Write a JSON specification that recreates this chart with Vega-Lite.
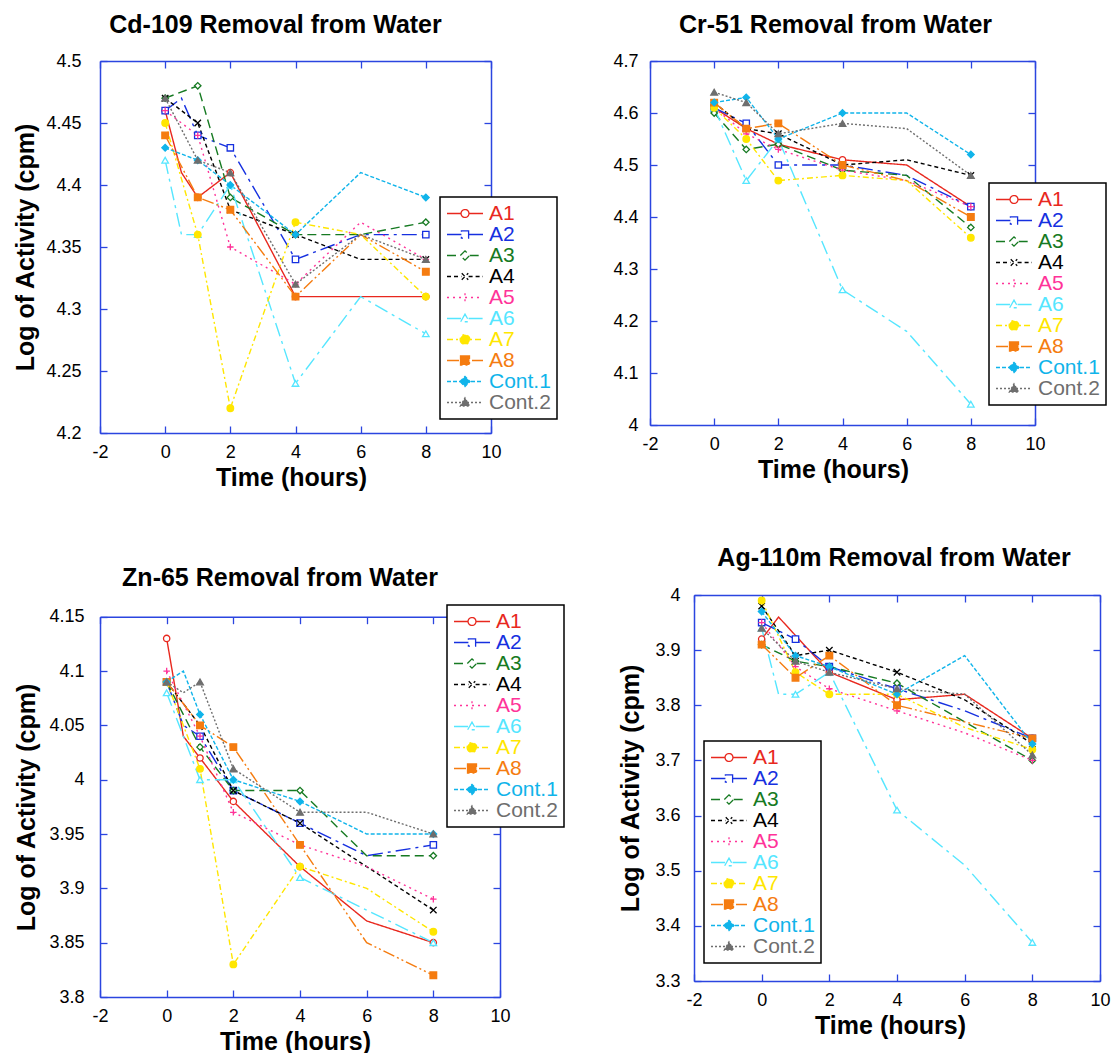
{
  "$schema": "https://vega.github.io/schema/vega-lite/v6.json",
  "background": "white",
  "padding": {"left": 13, "top": 13, "right": 0, "bottom": 0},
  "config": {
    "font": "Liberation Sans",
    "view": {"stroke": null},
    "axis": {"grid": false, "domain": true, "domainColor": "#2b45e0", "domainWidth": 1.5, "tickColor": "#2b45e0", "tickWidth": 1.3, "tickSize": -7, "labelFont": "Liberation Sans", "labelFontSize": 18, "labelColor": "#000000", "titleFont": "Liberation Sans", "titleFontSize": 25, "titleFontWeight": "bold", "titleColor": "#000000", "labelFlush": false, "labelOverlap": false},
    "title": {"font": "Liberation Sans", "fontSize": 25, "fontWeight": "bold", "color": "#000000"},
    "legend": {"labelFont": "Liberation Sans"}
  },
  "datasets": {
    "cd": [
      {"s":"A1","t":0,"v":4.46},{"s":"A1","t":0.5,"v":4.41},{"s":"A1","t":1,"v":4.39},{"s":"A1","t":2,"v":4.41},{"s":"A1","t":4,"v":4.31},{"s":"A1","t":6,"v":4.31},{"s":"A1","t":8,"v":4.31},
      {"s":"A2","t":0,"v":4.46},{"s":"A2","t":0.5,"v":4.47},{"s":"A2","t":1,"v":4.44},{"s":"A2","t":2,"v":4.43},{"s":"A2","t":4,"v":4.34},{"s":"A2","t":6,"v":4.36},{"s":"A2","t":8,"v":4.36},
      {"s":"A3","t":0,"v":4.47},{"s":"A3","t":1,"v":4.48},{"s":"A3","t":2,"v":4.39},{"s":"A3","t":4,"v":4.36},{"s":"A3","t":6,"v":4.36},{"s":"A3","t":8,"v":4.37},
      {"s":"A4","t":0,"v":4.47},{"s":"A4","t":1,"v":4.45},{"s":"A4","t":2,"v":4.38},{"s":"A4","t":4,"v":4.36},{"s":"A4","t":6,"v":4.34},{"s":"A4","t":8,"v":4.34},
      {"s":"A5","t":0,"v":4.46},{"s":"A5","t":1,"v":4.44},{"s":"A5","t":2,"v":4.35},{"s":"A5","t":4,"v":4.32},{"s":"A5","t":6,"v":4.37},{"s":"A5","t":8,"v":4.34},
      {"s":"A6","t":0,"v":4.42},{"s":"A6","t":0.5,"v":4.36},{"s":"A6","t":1,"v":4.36},{"s":"A6","t":2,"v":4.40},{"s":"A6","t":4,"v":4.24},{"s":"A6","t":6,"v":4.31},{"s":"A6","t":8,"v":4.28},
      {"s":"A7","t":0,"v":4.45},{"s":"A7","t":1,"v":4.36},{"s":"A7","t":2,"v":4.22},{"s":"A7","t":4,"v":4.37},{"s":"A7","t":6,"v":4.36},{"s":"A7","t":8,"v":4.31},
      {"s":"A8","t":0,"v":4.44},{"s":"A8","t":1,"v":4.39},{"s":"A8","t":2,"v":4.38},{"s":"A8","t":4,"v":4.31},{"s":"A8","t":6,"v":4.36},{"s":"A8","t":8,"v":4.33},
      {"s":"Cont.1","t":0,"v":4.43},{"s":"Cont.1","t":1,"v":4.42},{"s":"Cont.1","t":2,"v":4.40},{"s":"Cont.1","t":4,"v":4.36},{"s":"Cont.1","t":6,"v":4.41},{"s":"Cont.1","t":8,"v":4.39},
      {"s":"Cont.2","t":0,"v":4.47},{"s":"Cont.2","t":1,"v":4.42},{"s":"Cont.2","t":2,"v":4.41},{"s":"Cont.2","t":4,"v":4.32},{"s":"Cont.2","t":6,"v":4.36},{"s":"Cont.2","t":8,"v":4.34}
    ],
    "cr": [
      {"s":"A1","t":0,"v":4.61},{"s":"A1","t":1,"v":4.57},{"s":"A1","t":2,"v":4.54},{"s":"A1","t":4,"v":4.51},{"s":"A1","t":6,"v":4.50},{"s":"A1","t":8,"v":4.42},
      {"s":"A2","t":0,"v":4.61},{"s":"A2","t":1,"v":4.58},{"s":"A2","t":2,"v":4.50},{"s":"A2","t":4,"v":4.50},{"s":"A2","t":6,"v":4.48},{"s":"A2","t":8,"v":4.42},
      {"s":"A3","t":0,"v":4.60},{"s":"A3","t":1,"v":4.53},{"s":"A3","t":2,"v":4.54},{"s":"A3","t":4,"v":4.49},{"s":"A3","t":6,"v":4.48},{"s":"A3","t":8,"v":4.38},
      {"s":"A4","t":0,"v":4.62},{"s":"A4","t":1,"v":4.57},{"s":"A4","t":2,"v":4.56},{"s":"A4","t":4,"v":4.50},{"s":"A4","t":6,"v":4.51},{"s":"A4","t":8,"v":4.48},
      {"s":"A5","t":0,"v":4.61},{"s":"A5","t":1,"v":4.56},{"s":"A5","t":2,"v":4.53},{"s":"A5","t":4,"v":4.49},{"s":"A5","t":6,"v":4.47},{"s":"A5","t":8,"v":4.42},
      {"s":"A6","t":0,"v":4.61},{"s":"A6","t":1,"v":4.47},{"s":"A6","t":2,"v":4.55},{"s":"A6","t":4,"v":4.26},{"s":"A6","t":6,"v":4.18},{"s":"A6","t":8,"v":4.04},
      {"s":"A7","t":0,"v":4.61},{"s":"A7","t":1,"v":4.55},{"s":"A7","t":2,"v":4.47},{"s":"A7","t":4,"v":4.48},{"s":"A7","t":6,"v":4.47},{"s":"A7","t":8,"v":4.36},
      {"s":"A8","t":0,"v":4.62},{"s":"A8","t":1,"v":4.57},{"s":"A8","t":2,"v":4.58},{"s":"A8","t":4,"v":4.50},{"s":"A8","t":6,"v":4.47},{"s":"A8","t":8,"v":4.40},
      {"s":"Cont.1","t":0,"v":4.62},{"s":"Cont.1","t":1,"v":4.63},{"s":"Cont.1","t":2,"v":4.55},{"s":"Cont.1","t":4,"v":4.60},{"s":"Cont.1","t":6,"v":4.60},{"s":"Cont.1","t":8,"v":4.52},
      {"s":"Cont.2","t":0,"v":4.64},{"s":"Cont.2","t":1,"v":4.62},{"s":"Cont.2","t":2,"v":4.56},{"s":"Cont.2","t":4,"v":4.58},{"s":"Cont.2","t":6,"v":4.57},{"s":"Cont.2","t":8,"v":4.48}
    ],
    "zn": [
      {"s":"A1","t":0,"v":4.13},{"s":"A1","t":0.5,"v":4.04},{"s":"A1","t":1,"v":4.02},{"s":"A1","t":2,"v":3.98},{"s":"A1","t":4,"v":3.92},{"s":"A1","t":6,"v":3.87},{"s":"A1","t":8,"v":3.85},
      {"s":"A2","t":0,"v":4.09},{"s":"A2","t":0.5,"v":4.05},{"s":"A2","t":1,"v":4.04},{"s":"A2","t":2,"v":3.99},{"s":"A2","t":4,"v":3.96},{"s":"A2","t":6,"v":3.93},{"s":"A2","t":8,"v":3.94},
      {"s":"A3","t":0,"v":4.09},{"s":"A3","t":1,"v":4.03},{"s":"A3","t":2,"v":3.99},{"s":"A3","t":4,"v":3.99},{"s":"A3","t":6,"v":3.93},{"s":"A3","t":8,"v":3.93},
      {"s":"A4","t":0,"v":4.09},{"s":"A4","t":1,"v":4.05},{"s":"A4","t":2,"v":3.99},{"s":"A4","t":4,"v":3.96},{"s":"A4","t":6,"v":3.92},{"s":"A4","t":8,"v":3.88},
      {"s":"A5","t":0,"v":4.10},{"s":"A5","t":1,"v":4.04},{"s":"A5","t":2,"v":3.97},{"s":"A5","t":4,"v":3.94},{"s":"A5","t":6,"v":3.92},{"s":"A5","t":8,"v":3.89},
      {"s":"A6","t":0,"v":4.08},{"s":"A6","t":1,"v":4.00},{"s":"A6","t":2,"v":4.00},{"s":"A6","t":4,"v":3.91},{"s":"A6","t":6,"v":3.88},{"s":"A6","t":8,"v":3.85},
      {"s":"A7","t":0,"v":4.09},{"s":"A7","t":1,"v":4.01},{"s":"A7","t":2,"v":3.83},{"s":"A7","t":4,"v":3.92},{"s":"A7","t":6,"v":3.90},{"s":"A7","t":8,"v":3.86},
      {"s":"A8","t":0,"v":4.09},{"s":"A8","t":1,"v":4.05},{"s":"A8","t":2,"v":4.03},{"s":"A8","t":4,"v":3.94},{"s":"A8","t":6,"v":3.85},{"s":"A8","t":8,"v":3.82},
      {"s":"Cont.1","t":0,"v":4.09},{"s":"Cont.1","t":0.5,"v":4.10},{"s":"Cont.1","t":1,"v":4.06},{"s":"Cont.1","t":2,"v":4.00},{"s":"Cont.1","t":4,"v":3.98},{"s":"Cont.1","t":6,"v":3.95},{"s":"Cont.1","t":8,"v":3.95},
      {"s":"Cont.2","t":0,"v":4.09},{"s":"Cont.2","t":0.5,"v":4.08},{"s":"Cont.2","t":1,"v":4.09},{"s":"Cont.2","t":2,"v":4.01},{"s":"Cont.2","t":4,"v":3.97},{"s":"Cont.2","t":6,"v":3.97},{"s":"Cont.2","t":8,"v":3.95}
    ],
    "ag": [
      {"s":"A1","t":0,"v":3.92},{"s":"A1","t":0.5,"v":3.96},{"s":"A1","t":2,"v":3.86},{"s":"A1","t":4,"v":3.81},{"s":"A1","t":6,"v":3.82},{"s":"A1","t":8,"v":3.74},
      {"s":"A2","t":0,"v":3.95},{"s":"A2","t":1,"v":3.92},{"s":"A2","t":2,"v":3.87},{"s":"A2","t":4,"v":3.83},{"s":"A2","t":6,"v":3.79},{"s":"A2","t":8,"v":3.74},
      {"s":"A3","t":0,"v":3.91},{"s":"A3","t":1,"v":3.88},{"s":"A3","t":2,"v":3.87},{"s":"A3","t":4,"v":3.84},{"s":"A3","t":6,"v":3.77},{"s":"A3","t":8,"v":3.70},
      {"s":"A4","t":0,"v":3.98},{"s":"A4","t":1,"v":3.89},{"s":"A4","t":2,"v":3.90},{"s":"A4","t":4,"v":3.86},{"s":"A4","t":6,"v":3.81},{"s":"A4","t":8,"v":3.73},
      {"s":"A5","t":0,"v":3.95},{"s":"A5","t":1,"v":3.87},{"s":"A5","t":2,"v":3.83},{"s":"A5","t":4,"v":3.79},{"s":"A5","t":6,"v":3.75},{"s":"A5","t":8,"v":3.70},
      {"s":"A6","t":0,"v":3.94},{"s":"A6","t":0.5,"v":3.82},{"s":"A6","t":1,"v":3.82},{"s":"A6","t":2,"v":3.86},{"s":"A6","t":4,"v":3.61},{"s":"A6","t":6,"v":3.51},{"s":"A6","t":8,"v":3.37},
      {"s":"A7","t":0,"v":3.99},{"s":"A7","t":1,"v":3.86},{"s":"A7","t":2,"v":3.82},{"s":"A7","t":4,"v":3.82},{"s":"A7","t":6,"v":3.76},{"s":"A7","t":8,"v":3.72},
      {"s":"A8","t":0,"v":3.91},{"s":"A8","t":1,"v":3.85},{"s":"A8","t":2,"v":3.89},{"s":"A8","t":4,"v":3.80},{"s":"A8","t":6,"v":3.77},{"s":"A8","t":8,"v":3.74},
      {"s":"Cont.1","t":0,"v":3.97},{"s":"Cont.1","t":1,"v":3.89},{"s":"Cont.1","t":2,"v":3.87},{"s":"Cont.1","t":4,"v":3.82},{"s":"Cont.1","t":6,"v":3.89},{"s":"Cont.1","t":8,"v":3.73},
      {"s":"Cont.2","t":0,"v":3.94},{"s":"Cont.2","t":1,"v":3.88},{"s":"Cont.2","t":2,"v":3.86},{"s":"Cont.2","t":4,"v":3.83},{"s":"Cont.2","t":6,"v":3.82},{"s":"Cont.2","t":8,"v":3.71}
    ]
  },
  "columns": 2,
  "spacing": {"row": 162, "column": 150},
  "bounds": "flush",
  "resolve": {"scale": {"color": "independent", "strokeDash": "independent", "shape": "independent", "stroke": "independent", "fill": "independent", "size": "independent"}},
  "concat": [
    {
      "width": 391, "height": 372,
      "title": {"text": "Cd-109 Removal from Water", "frame": "group", "anchor": "middle", "baseline": "alphabetic", "offset": -6, "dx": -20},
      "data": {"name": "cd"},
      "layer": [
        {
          "mark": {"type": "line", "strokeWidth": 1.4},
          "encoding": {
            "x": {"field": "t", "type": "quantitative", "scale": {"domain": [-2, 10], "nice": false, "zero": false}, "axis": {"orient": "bottom", "values": [-2, 0, 2, 4, 6, 8, 10], "labelExpr": "replace(datum.label, '\u2212', '-')", "title": "Time (hours)", "titleX": 191, "titleY": 52, "titleBaseline": "alphabetic", "titleAlign": "center", "labelPadding": 17}},
            "y": {"field": "v", "type": "quantitative", "scale": {"domain": [4.2, 4.5], "nice": false, "zero": false}, "axis": {"orient": "left", "values": [4.2, 4.25, 4.3, 4.35, 4.4, 4.45, 4.5], "format": "~g", "title": "Log of Activity (cpm)", "titleX": -75, "titleY": 186, "titleAngle": 270, "titleBaseline": "middle", "titleAlign": "center", "labelPadding": 26}},
            "color": {"field": "s", "type": "nominal", "scale": {"domain": ["A1","A2","A3","A4","A5","A6","A7","A8","Cont.1","Cont.2"], "range": ["#e8281e","#1630e0","#167a22","#000000","#ff3399","#55e6ff","#ffe600","#f57c10","#10b4ea","#6e6e6e"]},
              "legend": {"orient": "none", "legendX": 340, "legendY": 136, "title": null, "direction": "vertical", "labelFontSize": 21, "symbolSize": 1296, "symbolStrokeWidth": 1.3, "rowPadding": -1.4, "labelOffset": 5, "padding": 6, "strokeColor": "#000000", "fillColor": "#ffffff",
                "encode": {
                  "legend": {"update": {"strokeWidth": {"value": 1.5}}},
                  "symbols": {"update": {
                    "y": {"value": 10.5},
                    "size": {"value": 1296},
                    "shape": {"signal": "['M-1,0L-0.22,0M0.22,0L1,0M-0.22,0A0.22,0.22,0,1,0,0.22,0A0.22,0.22,0,1,0,-0.22,0Z','M-1,0L-0.2,0M0.2,0L1,0M-0.2,-0.2L0.2,-0.2L0.2,0.2L-0.2,0.2Z','M-1,0L-0.26,0M0.26,0L1,0M-0.26,0L0,-0.26L0.26,0L0,0.26Z','M-1,0L-0.2,0M0.2,0L1,0M-0.18,-0.18L0.18,0.18M-0.18,0.18L0.18,-0.18','M-1,0L1,0M0,-0.24L0,0.24','M-1,0L-0.2,0M0.2,0L1,0M-0.24,0.18L0,-0.24L0.24,0.18Z','M-1,0L1,0M-0.27,0A0.27,0.27,0,1,0,0.27,0A0.27,0.27,0,1,0,-0.27,0Z','M-1,0L1,0M-0.25,-0.25L0.25,-0.25L0.25,0.25L-0.25,0.25Z','M-1,0L1,0M-0.28,0L0,-0.28L0.28,0L0,0.28Z','M-1,0L1,0M-0.26,0.2L0,-0.26L0.26,0.2Z'][indexof(['A1','A2','A3','A4','A5','A6','A7','A8','Cont.1','Cont.2'],datum.value)]"},
                    "stroke": {"signal": "['#e8281e','#1630e0','#167a22','#000000','#ff3399','#55e6ff','#ffe600','#f57c10','#10b4ea','#6e6e6e'][indexof(['A1','A2','A3','A4','A5','A6','A7','A8','Cont.1','Cont.2'],datum.value)]"},
                    "fill": {"signal": "['white','white','white','transparent','transparent','white','#ffe600','#f57c10','#10b4ea','#6e6e6e'][indexof(['A1','A2','A3','A4','A5','A6','A7','A8','Cont.1','Cont.2'],datum.value)]"},
                    "strokeDash": {"signal": "[[1,0],[15,5,3,5],[9,5],[4,3],[2,4],[14,5,3,5],[6,3,2,3],[12,3,2,3,2,3],[4,2],[2,2]][indexof(['A1','A2','A3','A4','A5','A6','A7','A8','Cont.1','Cont.2'],datum.value)]"},
                    "opacity": {"value": 1}
                  }},
                  "labels": {"update": {"y": {"value": 10.5}, "fill": {"signal": "['#e8281e','#1630e0','#167a22','#000000','#ff3399','#55e6ff','#ffe600','#f57c10','#10b4ea','#6e6e6e'][indexof(['A1','A2','A3','A4','A5','A6','A7','A8','Cont.1','Cont.2'],datum.value)]"}}}
                }}},
            "strokeDash": {"field": "s", "type": "nominal", "scale": {"domain": ["A1","A2","A3","A4","A5","A6","A7","A8","Cont.1","Cont.2"], "range": [[1,0],[15,5,3,5],[9,5],[4,3],[2,4],[14,5,3,5],[6,3,2,3],[12,3,2,3,2,3],[4,2],[2,2]]}, "legend": null}
          }
        },
        {
          "transform": [{"filter": {"field": "t", "oneOf": [0, 1, 2, 4, 8]}}],
          "mark": {"type": "point", "strokeWidth": 1.3, "opacity": 1},
          "encoding": {
            "x": {"field": "t", "type": "quantitative", "axis": {"orient": "top", "values": [-2, 0, 2, 4, 6, 8, 10], "labels": false, "title": null, "minExtent": 0, "maxExtent": 0}},
            "y": {"field": "v", "type": "quantitative", "axis": {"orient": "right", "values": [4.2, 4.25, 4.3, 4.35, 4.4, 4.45, 4.5], "labels": false, "title": null, "minExtent": 0, "maxExtent": 0}},
            "shape": {"field": "s", "type": "nominal", "scale": {"range": ["circle","square","diamond","M-1,-1L1,1M-1,1L1,-1","M-1,0L1,0M0,-1L0,1","triangle-up","circle","square","diamond","triangle-up"]}, "legend": null},
            "stroke": {"field": "s", "type": "nominal", "scale": {"range": ["#e8281e","#1630e0","#167a22","#000000","#ff3399","#55e6ff","#ffe600","#f57c10","#10b4ea","#6e6e6e"]}, "legend": null},
            "fill": {"field": "s", "type": "nominal", "scale": {"range": ["white","white","white","transparent","transparent","white","#ffe600","#f57c10","#10b4ea","#6e6e6e"]}, "legend": null},
            "size": {"field": "s", "type": "nominal", "scale": {"range": [40,45,45,40,50,45,75,70,65,60]}, "legend": null}
          }
        }
      ],
      "resolve": {"axis": {"x": "independent", "y": "independent"}}
    },
    {
      "width": 385, "height": 364,
      "title": {"text": "Cr-51 Removal from Water", "frame": "group", "anchor": "middle", "baseline": "alphabetic", "offset": -6, "dx": -7},
      "data": {"name": "cr"},
      "layer": [
        {
          "mark": {"type": "line", "strokeWidth": 1.4},
          "encoding": {
            "x": {"field": "t", "type": "quantitative", "scale": {"domain": [-2, 10], "nice": false, "zero": false}, "axis": {"orient": "bottom", "values": [-2, 0, 2, 4, 6, 8, 10], "labelExpr": "replace(datum.label, '\u2212', '-')", "title": "Time (hours)", "titleX": 183, "titleY": 52, "titleBaseline": "alphabetic", "titleAlign": "center", "labelPadding": 17}},
            "y": {"field": "v", "type": "quantitative", "scale": {"domain": [4.0, 4.7], "nice": false, "zero": false}, "axis": {"orient": "left", "values": [4.0, 4.1, 4.2, 4.3, 4.4, 4.5, 4.6, 4.7], "format": "~g", "title": null, "labelPadding": 19}},
            "color": {"field": "s", "type": "nominal", "scale": {"domain": ["A1","A2","A3","A4","A5","A6","A7","A8","Cont.1","Cont.2"], "range": ["#e8281e","#1630e0","#167a22","#000000","#ff3399","#55e6ff","#ffe600","#f57c10","#10b4ea","#6e6e6e"]},
              "legend": {"orient": "none", "legendX": 339, "legendY": 122, "title": null, "direction": "vertical", "labelFontSize": 21, "symbolSize": 1296, "symbolStrokeWidth": 1.3, "rowPadding": -1.7, "labelOffset": 5, "padding": 6, "strokeColor": "#000000", "fillColor": "#ffffff",
                "encode": {
                  "legend": {"update": {"strokeWidth": {"value": 1.5}}},
                  "symbols": {"update": {
                    "y": {"value": 10.5},
                    "size": {"value": 1296},
                    "shape": {"signal": "['M-1,0L-0.22,0M0.22,0L1,0M-0.22,0A0.22,0.22,0,1,0,0.22,0A0.22,0.22,0,1,0,-0.22,0Z','M-1,0L-0.2,0M0.2,0L1,0M-0.2,-0.2L0.2,-0.2L0.2,0.2L-0.2,0.2Z','M-1,0L-0.26,0M0.26,0L1,0M-0.26,0L0,-0.26L0.26,0L0,0.26Z','M-1,0L-0.2,0M0.2,0L1,0M-0.18,-0.18L0.18,0.18M-0.18,0.18L0.18,-0.18','M-1,0L1,0M0,-0.24L0,0.24','M-1,0L-0.2,0M0.2,0L1,0M-0.24,0.18L0,-0.24L0.24,0.18Z','M-1,0L1,0M-0.27,0A0.27,0.27,0,1,0,0.27,0A0.27,0.27,0,1,0,-0.27,0Z','M-1,0L1,0M-0.25,-0.25L0.25,-0.25L0.25,0.25L-0.25,0.25Z','M-1,0L1,0M-0.28,0L0,-0.28L0.28,0L0,0.28Z','M-1,0L1,0M-0.26,0.2L0,-0.26L0.26,0.2Z'][indexof(['A1','A2','A3','A4','A5','A6','A7','A8','Cont.1','Cont.2'],datum.value)]"},
                    "stroke": {"signal": "['#e8281e','#1630e0','#167a22','#000000','#ff3399','#55e6ff','#ffe600','#f57c10','#10b4ea','#6e6e6e'][indexof(['A1','A2','A3','A4','A5','A6','A7','A8','Cont.1','Cont.2'],datum.value)]"},
                    "fill": {"signal": "['white','white','white','transparent','transparent','white','#ffe600','#f57c10','#10b4ea','#6e6e6e'][indexof(['A1','A2','A3','A4','A5','A6','A7','A8','Cont.1','Cont.2'],datum.value)]"},
                    "strokeDash": {"signal": "[[1,0],[15,5,3,5],[9,5],[4,3],[2,4],[14,5,3,5],[6,3,2,3],[12,3,2,3,2,3],[4,2],[2,2]][indexof(['A1','A2','A3','A4','A5','A6','A7','A8','Cont.1','Cont.2'],datum.value)]"},
                    "opacity": {"value": 1}
                  }},
                  "labels": {"update": {"y": {"value": 10.5}, "fill": {"signal": "['#e8281e','#1630e0','#167a22','#000000','#ff3399','#55e6ff','#ffe600','#f57c10','#10b4ea','#6e6e6e'][indexof(['A1','A2','A3','A4','A5','A6','A7','A8','Cont.1','Cont.2'],datum.value)]"}}}
                }}},
            "strokeDash": {"field": "s", "type": "nominal", "scale": {"domain": ["A1","A2","A3","A4","A5","A6","A7","A8","Cont.1","Cont.2"], "range": [[1,0],[15,5,3,5],[9,5],[4,3],[2,4],[14,5,3,5],[6,3,2,3],[12,3,2,3,2,3],[4,2],[2,2]]}, "legend": null}
          }
        },
        {
          "transform": [{"filter": {"field": "t", "oneOf": [0, 1, 2, 4, 8]}}],
          "mark": {"type": "point", "strokeWidth": 1.3, "opacity": 1},
          "encoding": {
            "x": {"field": "t", "type": "quantitative", "axis": {"orient": "top", "values": [-2, 0, 2, 4, 6, 8, 10], "labels": false, "title": null, "minExtent": 0, "maxExtent": 0}},
            "y": {"field": "v", "type": "quantitative", "axis": {"orient": "right", "values": [4.0, 4.1, 4.2, 4.3, 4.4, 4.5, 4.6, 4.7], "labels": false, "title": null, "minExtent": 0, "maxExtent": 0}},
            "shape": {"field": "s", "type": "nominal", "scale": {"range": ["circle","square","diamond","M-1,-1L1,1M-1,1L1,-1","M-1,0L1,0M0,-1L0,1","triangle-up","circle","square","diamond","triangle-up"]}, "legend": null},
            "stroke": {"field": "s", "type": "nominal", "scale": {"range": ["#e8281e","#1630e0","#167a22","#000000","#ff3399","#55e6ff","#ffe600","#f57c10","#10b4ea","#6e6e6e"]}, "legend": null},
            "fill": {"field": "s", "type": "nominal", "scale": {"range": ["white","white","white","transparent","transparent","white","#ffe600","#f57c10","#10b4ea","#6e6e6e"]}, "legend": null},
            "size": {"field": "s", "type": "nominal", "scale": {"range": [40,45,45,40,50,45,75,70,65,60]}, "legend": null}
          }
        }
      ],
      "resolve": {"axis": {"x": "independent", "y": "independent"}}
    },
    {
      "width": 400, "height": 402,
      "title": {"text": "Zn-65 Removal from Water", "frame": "group", "anchor": "middle", "baseline": "alphabetic", "offset": -16, "dx": -20},
      "data": {"name": "zn"},
      "layer": [
        {
          "mark": {"type": "line", "strokeWidth": 1.4},
          "encoding": {
            "x": {"field": "t", "type": "quantitative", "scale": {"domain": [-2, 10], "nice": false, "zero": false}, "axis": {"orient": "bottom", "values": [-2, 0, 2, 4, 6, 8, 10], "labelExpr": "replace(datum.label, '\u2212', '-')", "title": "Time (hours)", "titleX": 195, "titleY": 52, "titleBaseline": "alphabetic", "titleAlign": "center", "labelPadding": 17}},
            "y": {"field": "v", "type": "quantitative", "scale": {"domain": [3.8, 4.15], "nice": false, "zero": false, "range": [402, 21.7]}, "axis": {"orient": "left", "values": [3.8, 3.85, 3.9, 3.95, 4.0, 4.05, 4.1, 4.15], "format": "~g", "title": "Log of Activity (cpm)", "titleX": -74, "titleY": 212, "titleAngle": 270, "titleBaseline": "middle", "titleAlign": "center", "labelPadding": 23}},
            "color": {"field": "s", "type": "nominal", "scale": {"domain": ["A1","A2","A3","A4","A5","A6","A7","A8","Cont.1","Cont.2"], "range": ["#e8281e","#1630e0","#167a22","#000000","#ff3399","#55e6ff","#ffe600","#f57c10","#10b4ea","#6e6e6e"]},
              "legend": {"orient": "none", "legendX": 347, "legendY": 10, "title": null, "direction": "vertical", "labelFontSize": 21, "symbolSize": 1296, "symbolStrokeWidth": 1.3, "rowPadding": -1.4, "labelOffset": 5, "padding": 6, "strokeColor": "#000000", "fillColor": "#ffffff",
                "encode": {
                  "legend": {"update": {"strokeWidth": {"value": 1.5}}},
                  "symbols": {"update": {
                    "y": {"value": 10.5},
                    "size": {"value": 1296},
                    "shape": {"signal": "['M-1,0L-0.22,0M0.22,0L1,0M-0.22,0A0.22,0.22,0,1,0,0.22,0A0.22,0.22,0,1,0,-0.22,0Z','M-1,0L-0.2,0M0.2,0L1,0M-0.2,-0.2L0.2,-0.2L0.2,0.2L-0.2,0.2Z','M-1,0L-0.26,0M0.26,0L1,0M-0.26,0L0,-0.26L0.26,0L0,0.26Z','M-1,0L-0.2,0M0.2,0L1,0M-0.18,-0.18L0.18,0.18M-0.18,0.18L0.18,-0.18','M-1,0L1,0M0,-0.24L0,0.24','M-1,0L-0.2,0M0.2,0L1,0M-0.24,0.18L0,-0.24L0.24,0.18Z','M-1,0L1,0M-0.27,0A0.27,0.27,0,1,0,0.27,0A0.27,0.27,0,1,0,-0.27,0Z','M-1,0L1,0M-0.25,-0.25L0.25,-0.25L0.25,0.25L-0.25,0.25Z','M-1,0L1,0M-0.28,0L0,-0.28L0.28,0L0,0.28Z','M-1,0L1,0M-0.26,0.2L0,-0.26L0.26,0.2Z'][indexof(['A1','A2','A3','A4','A5','A6','A7','A8','Cont.1','Cont.2'],datum.value)]"},
                    "stroke": {"signal": "['#e8281e','#1630e0','#167a22','#000000','#ff3399','#55e6ff','#ffe600','#f57c10','#10b4ea','#6e6e6e'][indexof(['A1','A2','A3','A4','A5','A6','A7','A8','Cont.1','Cont.2'],datum.value)]"},
                    "fill": {"signal": "['white','white','white','transparent','transparent','white','#ffe600','#f57c10','#10b4ea','#6e6e6e'][indexof(['A1','A2','A3','A4','A5','A6','A7','A8','Cont.1','Cont.2'],datum.value)]"},
                    "strokeDash": {"signal": "[[1,0],[15,5,3,5],[9,5],[4,3],[2,4],[14,5,3,5],[6,3,2,3],[12,3,2,3,2,3],[4,2],[2,2]][indexof(['A1','A2','A3','A4','A5','A6','A7','A8','Cont.1','Cont.2'],datum.value)]"},
                    "opacity": {"value": 1}
                  }},
                  "labels": {"update": {"y": {"value": 10.5}, "fill": {"signal": "['#e8281e','#1630e0','#167a22','#000000','#ff3399','#55e6ff','#ffe600','#f57c10','#10b4ea','#6e6e6e'][indexof(['A1','A2','A3','A4','A5','A6','A7','A8','Cont.1','Cont.2'],datum.value)]"}}}
                }}},
            "strokeDash": {"field": "s", "type": "nominal", "scale": {"domain": ["A1","A2","A3","A4","A5","A6","A7","A8","Cont.1","Cont.2"], "range": [[1,0],[15,5,3,5],[9,5],[4,3],[2,4],[14,5,3,5],[6,3,2,3],[12,3,2,3,2,3],[4,2],[2,2]]}, "legend": null}
          }
        },
        {
          "transform": [{"filter": {"field": "t", "oneOf": [0, 1, 2, 4, 8]}}],
          "mark": {"type": "point", "strokeWidth": 1.3, "opacity": 1},
          "encoding": {
            "x": {"field": "t", "type": "quantitative", "axis": {"orient": "top", "offset": -21.7, "values": [-2, 0, 2, 4, 6, 8, 10], "labels": false, "title": null, "minExtent": 0, "maxExtent": 0}},
            "y": {"field": "v", "type": "quantitative", "axis": {"orient": "right", "values": [3.8, 3.85, 3.9, 3.95, 4.0, 4.05, 4.1, 4.15], "labels": false, "title": null, "minExtent": 0, "maxExtent": 0}},
            "shape": {"field": "s", "type": "nominal", "scale": {"range": ["circle","square","diamond","M-1,-1L1,1M-1,1L1,-1","M-1,0L1,0M0,-1L0,1","triangle-up","circle","square","diamond","triangle-up"]}, "legend": null},
            "stroke": {"field": "s", "type": "nominal", "scale": {"range": ["#e8281e","#1630e0","#167a22","#000000","#ff3399","#55e6ff","#ffe600","#f57c10","#10b4ea","#6e6e6e"]}, "legend": null},
            "fill": {"field": "s", "type": "nominal", "scale": {"range": ["white","white","white","transparent","transparent","white","#ffe600","#f57c10","#10b4ea","#6e6e6e"]}, "legend": null},
            "size": {"field": "s", "type": "nominal", "scale": {"range": [40,45,45,40,50,45,75,70,65,60]}, "legend": null}
          }
        }
      ],
      "resolve": {"axis": {"x": "independent", "y": "independent"}}
    },
    {
      "width": 450, "height": 386,
      "title": {"text": "Ag-110m Removal from Water", "frame": "group", "anchor": "middle", "baseline": "alphabetic", "offset": -5, "dx": 19},
      "data": {"name": "ag"},
      "layer": [
        {
          "mark": {"type": "line", "strokeWidth": 1.4},
          "encoding": {
            "x": {"field": "t", "type": "quantitative", "scale": {"domain": [-2, 10], "nice": false, "zero": false, "range": [44, 450]}, "axis": {"orient": "bottom", "values": [-2, 0, 2, 4, 6, 8, 10], "labelExpr": "replace(datum.label, '\u2212', '-')", "title": "Time (hours)", "titleX": 240, "titleY": 52, "titleBaseline": "alphabetic", "titleAlign": "center", "labelPadding": 17}},
            "y": {"field": "v", "type": "quantitative", "scale": {"domain": [3.3, 4.0], "nice": false, "zero": false}, "axis": {"orient": "left", "offset": -44, "values": [3.3, 3.4, 3.5, 3.6, 3.7, 3.8, 3.9, 4.0], "format": "~g", "title": "Log of Activity (cpm)", "titleX": -64, "titleY": 193, "titleAngle": 270, "titleBaseline": "middle", "titleAlign": "center", "labelPadding": 21}},
            "color": {"field": "s", "type": "nominal", "scale": {"domain": ["A1","A2","A3","A4","A5","A6","A7","A8","Cont.1","Cont.2"], "range": ["#e8281e","#1630e0","#167a22","#000000","#ff3399","#55e6ff","#ffe600","#f57c10","#10b4ea","#6e6e6e"]},
              "legend": {"orient": "none", "legendX": 54, "legendY": 146, "title": null, "direction": "vertical", "labelFontSize": 21, "symbolSize": 1296, "symbolStrokeWidth": 1.3, "rowPadding": -1.4, "labelOffset": 5, "padding": 6, "strokeColor": "#000000", "fillColor": "#ffffff",
                "encode": {
                  "legend": {"update": {"strokeWidth": {"value": 1.5}}},
                  "symbols": {"update": {
                    "y": {"value": 10.5},
                    "size": {"value": 1296},
                    "shape": {"signal": "['M-1,0L-0.22,0M0.22,0L1,0M-0.22,0A0.22,0.22,0,1,0,0.22,0A0.22,0.22,0,1,0,-0.22,0Z','M-1,0L-0.2,0M0.2,0L1,0M-0.2,-0.2L0.2,-0.2L0.2,0.2L-0.2,0.2Z','M-1,0L-0.26,0M0.26,0L1,0M-0.26,0L0,-0.26L0.26,0L0,0.26Z','M-1,0L-0.2,0M0.2,0L1,0M-0.18,-0.18L0.18,0.18M-0.18,0.18L0.18,-0.18','M-1,0L1,0M0,-0.24L0,0.24','M-1,0L-0.2,0M0.2,0L1,0M-0.24,0.18L0,-0.24L0.24,0.18Z','M-1,0L1,0M-0.27,0A0.27,0.27,0,1,0,0.27,0A0.27,0.27,0,1,0,-0.27,0Z','M-1,0L1,0M-0.25,-0.25L0.25,-0.25L0.25,0.25L-0.25,0.25Z','M-1,0L1,0M-0.28,0L0,-0.28L0.28,0L0,0.28Z','M-1,0L1,0M-0.26,0.2L0,-0.26L0.26,0.2Z'][indexof(['A1','A2','A3','A4','A5','A6','A7','A8','Cont.1','Cont.2'],datum.value)]"},
                    "stroke": {"signal": "['#e8281e','#1630e0','#167a22','#000000','#ff3399','#55e6ff','#ffe600','#f57c10','#10b4ea','#6e6e6e'][indexof(['A1','A2','A3','A4','A5','A6','A7','A8','Cont.1','Cont.2'],datum.value)]"},
                    "fill": {"signal": "['white','white','white','transparent','transparent','white','#ffe600','#f57c10','#10b4ea','#6e6e6e'][indexof(['A1','A2','A3','A4','A5','A6','A7','A8','Cont.1','Cont.2'],datum.value)]"},
                    "strokeDash": {"signal": "[[1,0],[15,5,3,5],[9,5],[4,3],[2,4],[14,5,3,5],[6,3,2,3],[12,3,2,3,2,3],[4,2],[2,2]][indexof(['A1','A2','A3','A4','A5','A6','A7','A8','Cont.1','Cont.2'],datum.value)]"},
                    "opacity": {"value": 1}
                  }},
                  "labels": {"update": {"y": {"value": 10.5}, "fill": {"signal": "['#e8281e','#1630e0','#167a22','#000000','#ff3399','#55e6ff','#ffe600','#f57c10','#10b4ea','#6e6e6e'][indexof(['A1','A2','A3','A4','A5','A6','A7','A8','Cont.1','Cont.2'],datum.value)]"}}}
                }}},
            "strokeDash": {"field": "s", "type": "nominal", "scale": {"domain": ["A1","A2","A3","A4","A5","A6","A7","A8","Cont.1","Cont.2"], "range": [[1,0],[15,5,3,5],[9,5],[4,3],[2,4],[14,5,3,5],[6,3,2,3],[12,3,2,3,2,3],[4,2],[2,2]]}, "legend": null}
          }
        },
        {
          "transform": [{"filter": {"field": "t", "oneOf": [0, 1, 2, 4, 8]}}],
          "mark": {"type": "point", "strokeWidth": 1.3, "opacity": 1},
          "encoding": {
            "x": {"field": "t", "type": "quantitative", "axis": {"orient": "top", "values": [-2, 0, 2, 4, 6, 8, 10], "labels": false, "title": null, "minExtent": 0, "maxExtent": 0}},
            "y": {"field": "v", "type": "quantitative", "axis": {"orient": "right", "values": [3.3, 3.4, 3.5, 3.6, 3.7, 3.8, 3.9, 4.0], "labels": false, "title": null, "minExtent": 0, "maxExtent": 0}},
            "shape": {"field": "s", "type": "nominal", "scale": {"range": ["circle","square","diamond","M-1,-1L1,1M-1,1L1,-1","M-1,0L1,0M0,-1L0,1","triangle-up","circle","square","diamond","triangle-up"]}, "legend": null},
            "stroke": {"field": "s", "type": "nominal", "scale": {"range": ["#e8281e","#1630e0","#167a22","#000000","#ff3399","#55e6ff","#ffe600","#f57c10","#10b4ea","#6e6e6e"]}, "legend": null},
            "fill": {"field": "s", "type": "nominal", "scale": {"range": ["white","white","white","transparent","transparent","white","#ffe600","#f57c10","#10b4ea","#6e6e6e"]}, "legend": null},
            "size": {"field": "s", "type": "nominal", "scale": {"range": [40,45,45,40,50,45,75,70,65,60]}, "legend": null}
          }
        }
      ],
      "resolve": {"axis": {"x": "independent", "y": "independent"}}
    }
  ]
}
